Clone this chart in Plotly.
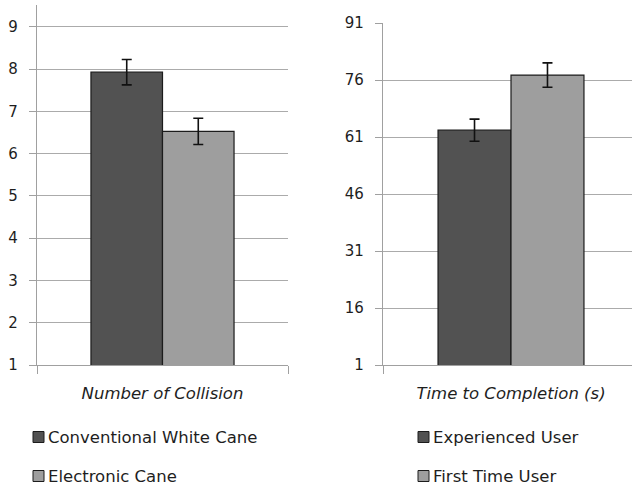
import plotly.graph_objects as go

# Figure size in pixels
W, H = 632, 487

# --- data -----------------------------------------------------------------
collision_category = ["Number of Collision"]
collision_series = ["Conventional White Cane", "Electronic Cane"]
collision_values = [7.93, 6.53]
collision_errors = [0.30, 0.31]

time_category = ["Time to Completion (s)"]
time_series = ["Experienced User", "First Time User"]
time_values = [62.8, 77.3]
time_errors = [2.9, 3.2]

left_ticks = [1, 2, 3, 4, 5, 6, 7, 8, 9]
right_ticks = [1, 16, 31, 46, 61, 76, 91]

# --- styling --------------------------------------------------------------
series_colors = ["#525252", "#9e9e9e"]
outline = "#1c1c1c"
grid_col = "#ababab"
axis_col = "#a0a0a0"
text_col = "#1e1e1e"
FONT = "DejaVu Sans"


def px_x(p):
    return p / W


def px_y(p):
    return 1 - p / H


fig = go.Figure()

for name, val, err, col in zip(collision_series, collision_values, collision_errors, series_colors):
    fig.add_trace(go.Bar(
        x=collision_category, y=[val], name=name,
        marker=dict(color=col, line=dict(color=outline, width=1.2)),
        error_y=dict(type="data", array=[err], color="#111111", thickness=1.6, width=5),
        xaxis="x", yaxis="y", showlegend=False,
    ))

for name, val, err, col in zip(time_series, time_values, time_errors, series_colors):
    fig.add_trace(go.Bar(
        x=time_category, y=[val], name=name,
        marker=dict(color=col, line=dict(color=outline, width=1.2)),
        error_y=dict(type="data", array=[err], color="#111111", thickness=1.6, width=5),
        xaxis="x2", yaxis="y2", showlegend=False,
    ))

xcommon = dict(
    type="category", showline=True, linecolor=axis_col, linewidth=1.2,
    ticks="outside", tickson="boundaries", ticklen=8, tickcolor=axis_col, tickwidth=1.2,
    showgrid=False, zeroline=False, fixedrange=True, automargin=False,
    tickfont=dict(family=FONT, size=16.5, color=text_col, style="italic"),
    ticklabelstandoff=13,
)
ycommon = dict(
    showline=True, linecolor=axis_col, linewidth=1.2,
    ticks="outside", ticklen=7, tickcolor=axis_col, tickwidth=1.2,
    showgrid=True, gridcolor=grid_col, gridwidth=1.2, zeroline=False,
    tickfont=dict(family=FONT, size=15, color=text_col),
    tickmode="array", fixedrange=True, automargin=False,
)

fig.update_layout(
    width=W, height=H,
    margin=dict(l=0, r=0, t=0, b=0, autoexpand=False),
    paper_bgcolor="white", plot_bgcolor="white",
    barmode="group", bargap=0.43, bargroupgap=0,
    xaxis=dict(xcommon, domain=[px_x(37), px_x(288)], range=[-0.5, 0.5], anchor="y"),
    yaxis=dict(ycommon, domain=[px_y(365), px_y(5)], range=[1, 9.52],
               tickvals=left_ticks, ticktext=[str(t) for t in left_ticks], anchor="x",
               ticklabelstandoff=8),
    xaxis2=dict(xcommon, domain=[px_x(383), 1], range=[-0.5, -0.5 + 249 / 256], anchor="y2"),
    yaxis2=dict(ycommon, domain=[px_y(365), px_y(23)], range=[1, 91],
                tickvals=right_ticks, ticktext=[str(t) for t in right_ticks], anchor="x2",
                ticklabelstandoff=8),
    showlegend=False,
)

# Legend blocks: a swatch and a label for each series, stacked vertically
legend_blocks = [(collision_series, 33), (time_series, 418)]
row_centres = [437, 476]
for names, left in legend_blocks:
    for name, col, cy in zip(names, series_colors, row_centres):
        fig.add_shape(
            type="rect", xref="paper", yref="paper",
            x0=px_x(left), x1=px_x(left + 11), y0=px_y(cy + 5.5), y1=px_y(cy - 5.5),
            fillcolor=col, line=dict(color=outline, width=1),
        )
        fig.add_annotation(
            x=px_x(left + 13), y=px_y(cy), xref="paper", yref="paper",
            text=name, showarrow=False, xanchor="left", yanchor="middle",
            font=dict(family=FONT, size=16.5, color=text_col),
        )

fig.write_html("out.html")
